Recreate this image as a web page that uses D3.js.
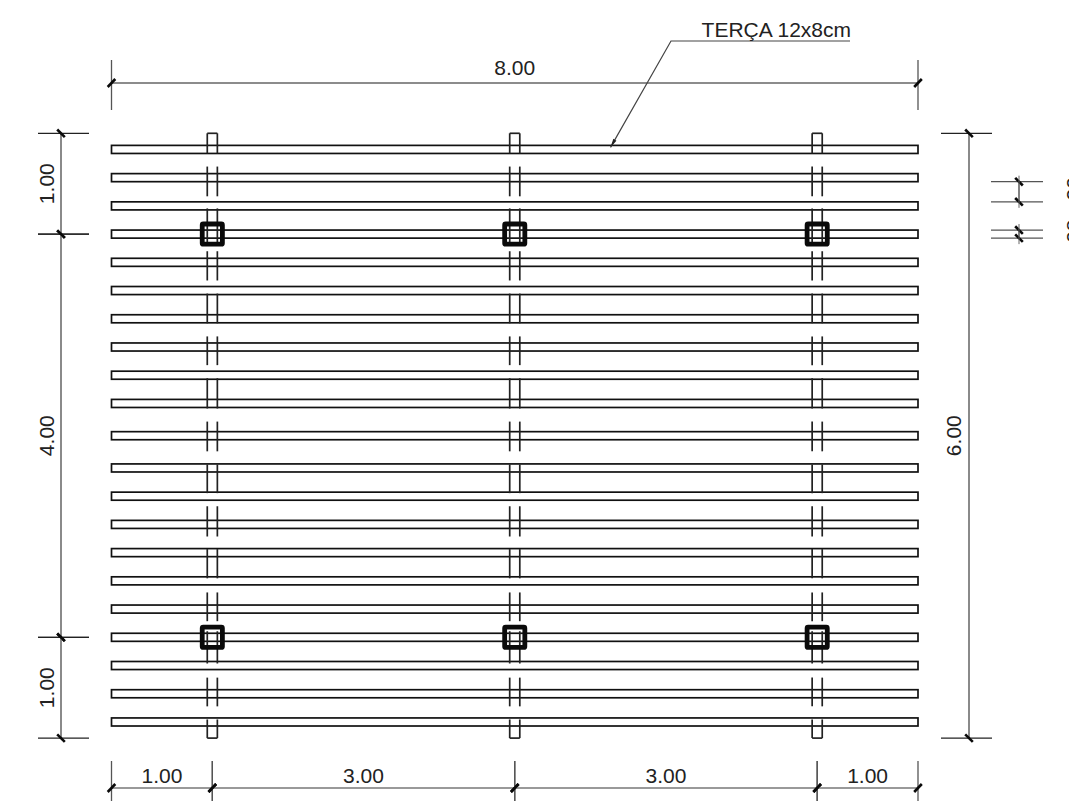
<!DOCTYPE html>
<html><head><meta charset="utf-8">
<script src="https://cdn.jsdelivr.net/npm/d3@7"></script>
<style>html,body{margin:0;padding:0;background:#fff;overflow:hidden}svg{display:block}text{font-family:"Liberation Sans",Arial,sans-serif;fill:#222}</style>
</head><body><svg id="c" width="1069" height="801"></svg>
<script>
// All values in metres
const purlinRows=[0.16,0.44,0.72,1.0,1.28,1.56,1.84,2.12,2.40,2.68,3.0,3.32,3.60,3.88,4.16,4.44,4.72,5.0,5.28,5.56,5.84];
const purlinDepth=0.08;
const roofWidth=8, roofDepth=6;
const rafterAxes=[1,4,7];
const rafterWidth=0.10;
const rafterSpans=[[0,0.2],[0.33,0.625],[0.745,1.09],[1.17,1.46],[1.59,1.885],[2.015,2.30],[2.43,2.73],[2.86,3.155],[3.285,3.57],[3.70,4.0],[4.125,4.415],[4.555,4.84],[4.94,5.26],[5.40,5.685],[5.815,6.0]];
const pillarRows=[1,5];
const pillarSize=0.2;
const xStops=[0,1,4,7,8];
const xStopLabels=["1.00","3.00","3.00","1.00"];
const yStops=[0,1,5,6];
const yStopLabels=["1.00","4.00","1.00"];
const overallX="8.00", overallY="6.00";
const gapDims=[[0.48,0.68,".20"],[0.96,1.04,".08"]];
const calloutText="TERÇA 12x8cm";

const svg=d3.select("#c");
const x=d3.scaleLinear().domain([0,8]).range([111.5,918]);
const y=d3.scaleLinear().domain([0,6]).range([133.3,738.1]);
const sx=d=>x(d)-x(0), sy=d=>y(d)-y(0);
const FS=21;
function ln(p,c,w){return svg.append("line").attr("x1",p[0]).attr("y1",p[1]).attr("x2",p[2]).attr("y2",p[3]).attr("stroke",c).attr("stroke-width",w);}

// purlins
svg.append("g").selectAll("rect").data(purlinRows).join("rect")
 .attr("x",x(0)).attr("width",sx(roofWidth))
 .attr("y",d=>y(d-purlinDepth/2)).attr("height",sy(purlinDepth))
 .attr("fill","none").attr("stroke","#111").attr("stroke-width",1.7);

// rafters
const last=rafterSpans.length-1;
rafterAxes.forEach(a=>{
  const g=svg.append("g").attr("fill","none").attr("stroke","#222").attr("stroke-width",1.7);
  rafterSpans.forEach((s,i)=>{
    [a-rafterWidth/2,a+rafterWidth/2].forEach(e=>{
      g.append("path").attr("d",d3.line()([[x(e),y(s[0])],[x(e),y(s[1])]]));
    });
    if(i===0) g.append("path").attr("d",d3.line()([[x(a-rafterWidth/2),y(s[0])],[x(a+rafterWidth/2),y(s[0])]]));
    if(i===last) g.append("path").attr("d",d3.line()([[x(a-rafterWidth/2),y(s[1])],[x(a+rafterWidth/2),y(s[1])]]));
  });
  // pillars
  pillarRows.forEach(r=>{
    svg.append("rect").attr("x",x(a-pillarSize/2)).attr("y",y(r-pillarSize/2))
      .attr("width",sx(pillarSize)).attr("height",sy(pillarSize))
      .attr("fill","none").attr("stroke","#0a0a0a").attr("stroke-width",4.8).attr("rx",1);
  });
});

// dimension helpers
const GREY="#8a8a8a";
function tick(px,py,hor){
  const d=3.8;
  if(hor) ln([px-d,py+d*1.05,px+d,py-d*1.05],"#0a0a0a",2.6);
  else ln([px-d,py-d,px+d,py+d],"#0a0a0a",2.6);
}
function hDim(a,b,dy,e0,e1,col){
  ln([x(a),dy,x(b),dy],col,1.5);
  [a,b].forEach(v=>{ln([x(v),e0,x(v),e1],"#555",1.3);tick(x(v),dy,true);});
}
function vDim(a,b,dx,e0,e1,col,w){
  ln([dx,y(a),dx,y(b)],col,w||2);
  [a,b].forEach(v=>{ln([e0,y(v),e1,y(v)],"#222",1.3);tick(dx,y(v),false);});
}
function rotText(t,tx,ty){
  svg.append("text").attr("transform",`translate(${tx},${ty}) rotate(-90)`)
    .attr("text-anchor","middle").attr("font-size",FS).text(t);
}
function hText(t,tx,ty){
  svg.append("text").attr("x",tx).attr("y",ty).attr("text-anchor","middle").attr("font-size",FS).text(t);
}

// overall width
hDim(0,8,83,60,110,"#666");
hText(overallX,x(4),75);

// bottom chain
d3.pairs(xStops).forEach((p,i)=>{
  hDim(p[0],p[1],788,761,801,"#777");
  hText(xStopLabels[i],x((p[0]+p[1])/2),783);
});

// left chain
d3.pairs(yStops).forEach((p,i)=>{
  vDim(p[0],p[1],61,38,89,GREY);
  rotText(yStopLabels[i],54,y((p[0]+p[1])/2));
});

// overall height
vDim(0,6,969,941,992,GREY);
rotText(overallY,961,y(3));

// small gap dimensions
gapDims.forEach(g=>{
  ln([1019,y(g[0]),1019,y(g[1])],"#666",1.3);
  [g[0],g[1]].forEach(v=>{ln([991,y(v),1043,y(v)],"#555",1.3);tick(1019,y(v),false);});
  ln([1019,y(g[0])-6,1019,y(g[1])+6],"#666",1);
  rotText(g[2],1081,y((g[0]+g[1])/2));
});

// callout
svg.append("path").attr("fill","none").attr("stroke","#444").attr("stroke-width",1.2)
  .attr("d",d3.line()([[850,41],[671,41],[x(4.95),y(0.14)]]));
const tip=[x(4.95),y(0.14)], ang=Math.atan2(41-tip[1],671-tip[0]);
svg.append("path").attr("fill","#222")
  .attr("d",d3.line()([tip,[tip[0]+9*Math.cos(ang-0.2),tip[1]+9*Math.sin(ang-0.2)],[tip[0]+9*Math.cos(ang+0.2),tip[1]+9*Math.sin(ang+0.2)]])+"Z");
svg.append("text").attr("x",851).attr("y",37).attr("text-anchor","end").attr("font-size",FS).text(calloutText);
</script></body></html>
